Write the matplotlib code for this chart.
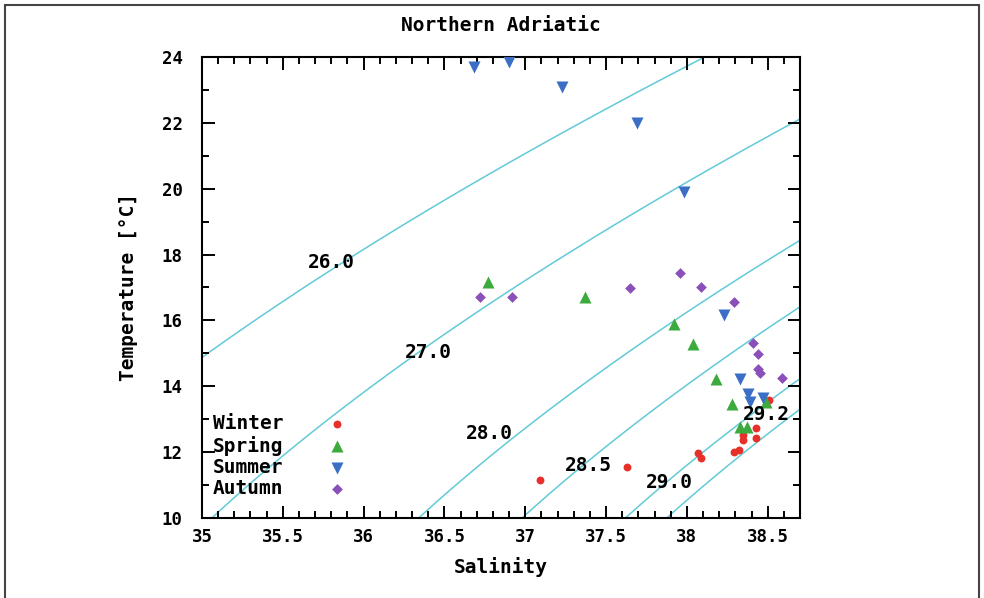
# import packages
import numpy as np
import matplotlib
matplotlib.use("Agg")
import matplotlib.pyplot as plt
import matplotlib.ticker as ticker
from matplotlib.patches import Rectangle

# data (salinity, temperature in degC)
winter_sal = [37.09, 37.63, 38.07, 38.09, 38.29, 38.32, 38.35, 38.35, 38.43, 38.43, 38.51]
winter_temp = [11.15, 11.55, 11.97, 11.82, 12.00, 12.07, 12.52, 12.37, 12.73, 12.43, 13.58]

spring_sal = [36.77, 37.37, 37.92, 38.04, 38.18, 38.28, 38.33, 38.37, 38.49]
spring_temp = [17.17, 16.71, 15.89, 15.28, 14.22, 13.46, 12.76, 12.76, 13.52]

summer_sal = [36.68, 36.90, 37.23, 37.69, 37.98, 38.23, 38.33, 38.38, 38.47, 38.39]
summer_temp = [23.70, 23.85, 23.09, 22.00, 19.90, 16.17, 14.22, 13.77, 13.64, 13.52]

autumn_sal = [36.72, 36.92, 37.65, 37.96, 38.09, 38.29, 38.41, 38.44, 38.44, 38.45, 38.59]
autumn_temp = [16.71, 16.71, 16.98, 17.44, 17.01, 16.56, 15.31, 14.98, 14.53, 14.40, 14.25]

# isopycnal levels (sigma-t) and where their labels sit
sigma_levels = [26.0, 27.0, 28.0, 28.5, 29.0, 29.2]
sigma_label_sal = [35.80, 36.40, 36.78, 37.39, 37.89, 38.49]
sigma_label_temp = [17.77, 15.04, 12.58, 11.58, 11.09, 13.13]

x_ticks = [35, 35.5, 36, 36.5, 37, 37.5, 38, 38.5]
x_tick_labels = ["35", "35.5", "36", "36.5", "37", "37.5", "38", "38.5"]
y_ticks = [10, 12, 14, 16, 18, 20, 22, 24]

MONO = "DejaVu Sans Mono"


def sigma_t(s, t):
    # UNESCO EOS-80 density at surface pressure, minus 1000
    rho_w = (999.842594 + 6.793952e-2 * t - 9.095290e-3 * t**2
             + 1.001685e-4 * t**3 - 1.120083e-6 * t**4 + 6.536332e-9 * t**5)
    a = (0.824493 - 4.0899e-3 * t + 7.6438e-5 * t**2
         - 8.2467e-7 * t**3 + 5.3875e-9 * t**4)
    b = -5.72466e-3 + 1.0227e-4 * t - 1.6546e-6 * t**2
    c = 4.8314e-4
    return rho_w + a * s + b * s**1.5 + c * s**2 - 1000.0


def draw_isopycnals(ax):
    s_grid, t_grid = np.meshgrid(np.linspace(34.8, 38.9, 300), np.linspace(9.0, 25.0, 300))
    ax.contour(s_grid, t_grid, sigma_t(s_grid, t_grid), levels=sigma_levels,
               colors="#62cad8", linewidths=1.1, zorder=1)
    for lev, s, t in zip(sigma_levels, sigma_label_sal, sigma_label_temp):
        ax.text(s, t, f"{lev:.1f}", fontsize=14, fontweight="bold", family=MONO,
                ha="center", va="center", zorder=4)


def generate_ts_plot():
    fig = plt.figure(figsize=(9.84, 5.98), dpi=100)
    ax = fig.add_axes([0.2053, 0.1338, 0.6077, 0.7709])

    draw_isopycnals(ax)

    ax.scatter(winter_sal, winter_temp, marker="o", s=32, color="#e8302a", lw=0, label="Winter", zorder=3)
    ax.scatter(spring_sal, spring_temp, marker="^", s=75, color="#3caa3c", lw=0, label="Spring", zorder=3)
    ax.scatter(summer_sal, summer_temp, marker="v", s=75, color="#3b6fc6", lw=0, label="Summer", zorder=3)
    ax.scatter(autumn_sal, autumn_temp, marker="D", s=30, color="#8a4fb8", lw=0, label="Autumn", zorder=3)

    ax.set_xlim(35, 38.7)
    ax.set_ylim(10, 24)
    ax.set_xticks(x_ticks)
    ax.set_xticklabels(x_tick_labels)
    ax.set_yticks(y_ticks)
    ax.xaxis.set_minor_locator(ticker.MultipleLocator(0.1))
    ax.yaxis.set_minor_locator(ticker.MultipleLocator(1))
    ax.tick_params(which="both", direction="in", top=True, right=True, width=1.4, color="black")
    ax.tick_params(which="major", length=9)
    ax.tick_params(which="minor", length=5)
    ax.tick_params(axis="x", which="major", pad=7)
    ax.tick_params(axis="y", which="major", pad=14)
    for lab in ax.get_xticklabels() + ax.get_yticklabels():
        lab.set_family(MONO)
        lab.set_fontweight("bold")
        lab.set_fontsize(12.5)
    for sp in ax.spines.values():
        sp.set_linewidth(1.5)

    ax.set_xlabel("Salinity", fontsize=14, fontweight="bold", family=MONO, labelpad=8)
    ax.set_ylabel("Temperature [°C]", fontsize=14, fontweight="bold", family=MONO, labelpad=17)
    ax.set_title("Northern Adriatic", fontsize=14, fontweight="bold", family=MONO, pad=19)

    ax.legend(loc="upper left", bbox_to_anchor=(0.018, 0.225), frameon=False, markerfirst=False,
              borderpad=0, borderaxespad=0, handlelength=1.0, handletextpad=2.25,
              labelspacing=0.12, prop={"family": MONO, "weight": "bold", "size": 14})

    # thin frame around the whole picture
    fig.add_artist(Rectangle((5 / 984, -0.05), 974 / 984, 1.05 - 5 / 598, transform=fig.transFigure,
                             fill=False, edgecolor="#444444", linewidth=1.5))

    plt.savefig("out.png", dpi=100)
    plt.close()


def main():
    generate_ts_plot()


main()
